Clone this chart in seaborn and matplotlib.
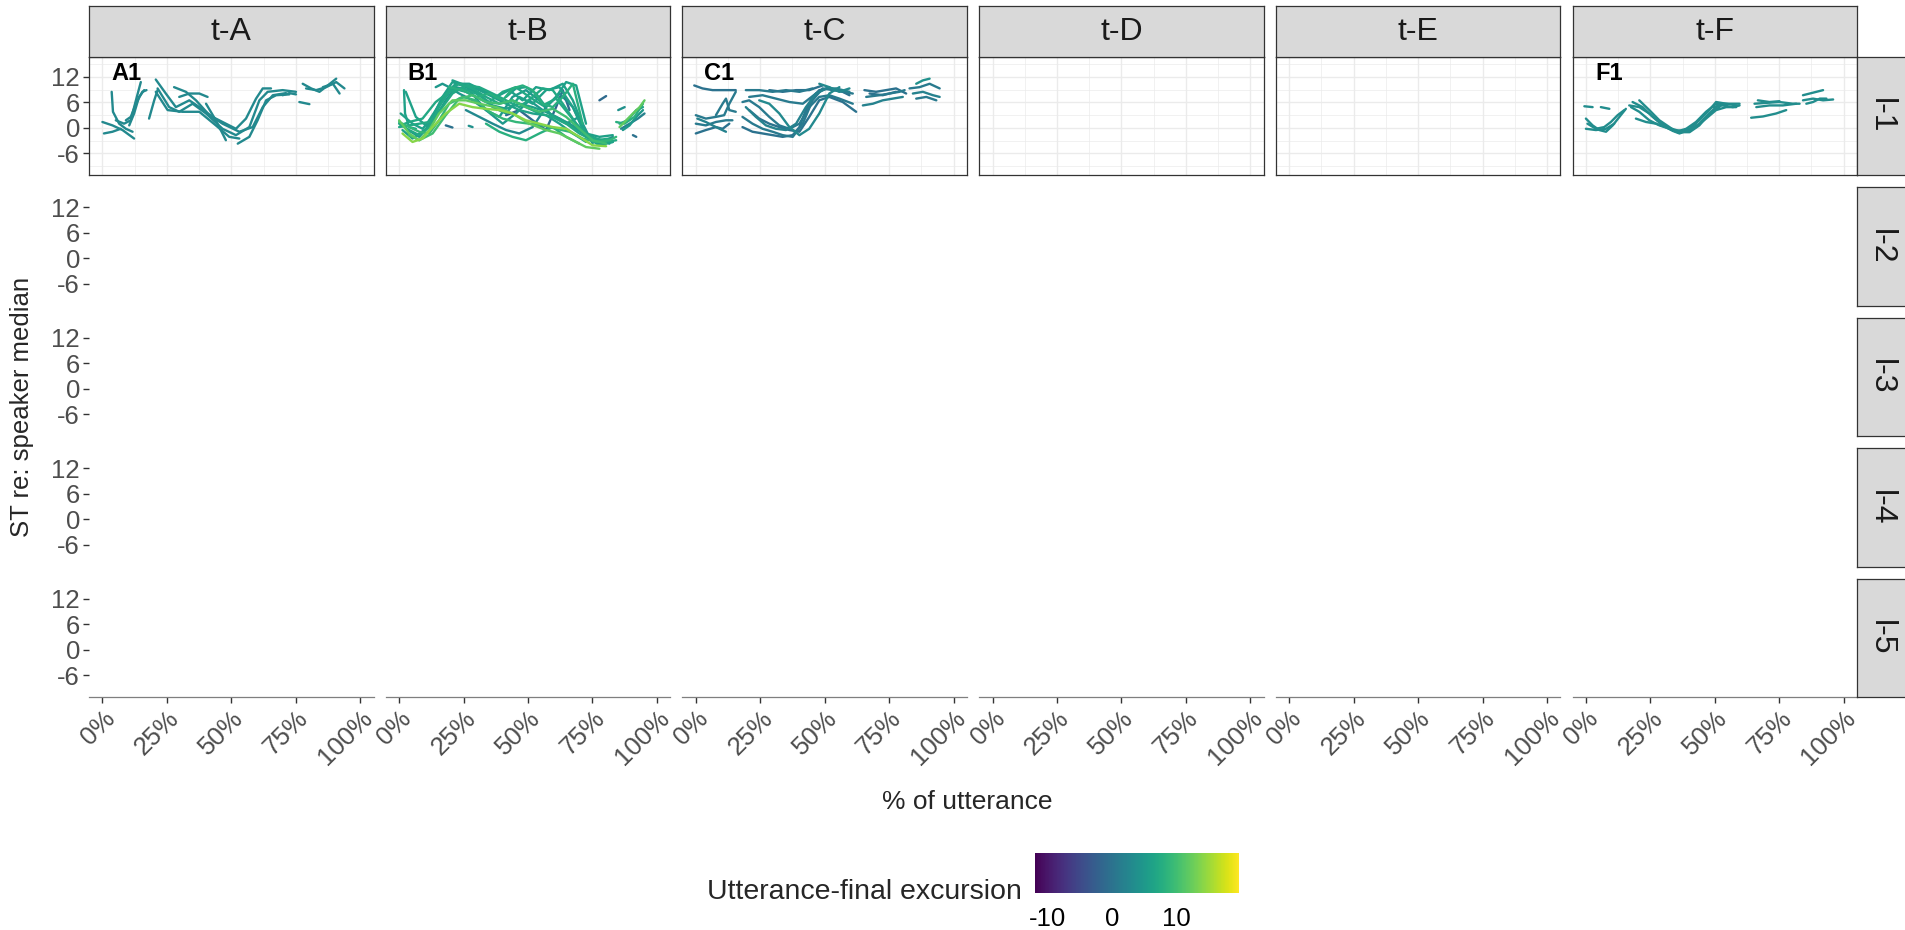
import pandas as pd
import matplotlib
matplotlib.use("Agg")
import matplotlib.pyplot as plt
import seaborn as sns

# facet levels
tones = ["t-A", "t-B", "t-C", "t-D", "t-E", "t-F"]
levels = ["l-1", "l-2", "l-3", "l-4", "l-5"]
panel_tags = {"t-A": "A1", "t-B": "B1", "t-C": "C1", "t-F": "F1"}

x_ticks = [0, 25, 50, 75, 100]
x_tick_labels = ["0%", "25%", "50%", "75%", "100%"]
y_ticks = [-6, 0, 6, 12]
exc_ticks = [-10, 0, 10]

# -------------------------------
# Contours: % of utterance, ST, excursion per contour
# -------------------------------
A_X = [
    [3.6, 4.1, 6.5, 9.1, 11.7],
    [0, 3.9, 7.8, 12.3],
    [0.6, 3.9, 7.1],
    [5.2, 8.4, 11.0, 13.0, 14.9],
    [9.1, 11.0, 13.0, 15.5, 17.1],
    [10.4, 12.3, 14.2, 16.2],
    [18.1, 20.1, 21.4],
    [20.7, 24.6, 28.5, 33.7, 37.6, 42.7, 47.9, 51.8, 55.7, 59.6, 62.2, 65.4],
    [21.4, 25.9, 29.8, 35.0, 40.2, 46.6, 51.8, 57.0, 60.9, 64.1, 69.9, 75.1],
    [20.7, 25.3, 31.1, 37.6, 44.0, 49.2, 53.1],
    [40.2, 44.0, 47.9],
    [27.8, 32.4, 36.3, 41.5, 46.6, 53.1, 58.3, 62.2, 66.1, 71.2],
    [29.8, 33.7, 37.6, 40.8],
    [52.5, 57.0, 60.2, 63.5, 67.4, 72.5],
    [76.4, 80.3],
    [77.7, 81.0, 84.2, 87.4, 90.7],
    [79.0, 82.9, 86.8, 90.7, 93.9],
    [85.5, 89.4, 92.0],
    [69.9, 72.5, 75.1],
]
A_Y = [
    [8.5, 3.8, 1.0, -0.2, -0.9],
    [1.4, 0.6, -0.5, -2.5],
    [-1.3, -0.9, -0.2],
    [1.8, 1.0, 1.8, 6.5, 10.8],
    [1.8, 2.6, 5.7, 8.5, 8.9],
    [0.6, 3.4, 7.3, 8.9],
    [2.2, 6.5, 8.9],
    [11.4, 8.1, 4.9, 6.5, 4.9, 2.6, 1.0, -0.2, 2.2, 6.9, 9.3, 9.3],
    [9.3, 4.9, 3.8, 5.7, 3.4, -0.2, -1.7, 0.2, 6.5, 8.5, 8.9, 8.5],
    [8.5, 4.2, 3.8, 3.8, 0.6, -2.1, -2.5],
    [5.7, 1.8, -2.9],
    [9.6, 8.5, 6.5, 3.0, 1.0, -0.9, 0.2, 4.9, 7.7, 8.2],
    [7.3, 8.1, 8.1, 7.3],
    [-3.7, -2.1, 1.8, 6.5, 7.7, 7.9],
    [6.1, 5.6],
    [10.4, 9.3, 8.5, 10.0, 11.6],
    [9.3, 8.9, 9.6, 10.8, 9.3],
    [9.6, 10.4, 8.1],
    [7.7, 8.2, 7.9],
]
A_EXC = [3, 3, 3, 3, 3, 3, 3, 3, 3, 3, 3, 3, 3, 3, 3, 3, 3, 3, 3]

B_X = [
    [0, 3.9, 7.8, 11.7, 15.5, 19.4, 23.3, 28.5, 33.7, 38.9, 44.0, 49.2, 54.4, 59.6, 64.8, 69.9, 75.1, 80.3, 84.2],
    [0.6, 5.2, 9.1, 13.0, 16.8, 20.7, 25.9, 31.1, 36.3, 41.5, 46.6, 51.8, 57.0, 62.2, 67.4, 72.5, 77.7, 82.9],
    [1.3, 5.2, 9.1, 13.0, 18.1, 23.3, 28.5, 33.7, 38.9, 44.0, 49.2, 54.4, 59.6, 64.8, 69.9, 75.1, 80.3],
    [0, 3.9, 7.8, 11.7, 15.5, 20.7, 25.9, 31.1, 37.6, 44.0, 50.5, 57.0, 62.2, 67.4, 72.5, 77.7],
    [2.6, 6.5, 10.4, 14.2, 18.1, 22.0, 27.2, 32.4, 37.6, 42.7, 47.9, 53.1, 58.3, 63.5, 67.4, 72.5, 77.7, 82.9],
    [41.5, 46.6, 51.8, 57.0, 60.9, 63.5, 66.1],
    [0, 3.9, 7.8, 11.7, 15.5, 20.7, 25.9, 31.1, 36.3, 41.5, 46.6, 51.8, 55.7, 59.6, 63.5, 68.7, 73.8, 79.0],
    [2.6, 7.8, 13.0, 18.1, 22.0, 27.2, 33.7, 40.2, 45.3, 50.5, 55.7, 60.9, 66.1, 71.2, 76.4, 81.6],
    [19.4, 24.6, 29.8, 35.0, 40.2, 44.0, 47.9, 51.8, 55.7, 59.6, 63.5, 67.4, 71.2],
    [20.7, 25.9, 31.1, 36.3, 41.5, 46.6, 51.8, 57.0, 62.2, 67.4, 72.5],
    [25.9, 31.1, 36.3, 41.5, 46.6, 51.8, 57.0, 62.2, 67.4, 72.5, 77.7, 82.9],
    [33.7, 38.9, 44.0, 49.2, 54.4, 59.6, 64.8, 69.9],
    [41.5, 45.3, 49.2, 53.1, 57.0, 60.9, 64.8, 68.7, 72.5],
    [1.9, 2.3, 3.9, 6.5],
    [85.5, 88.1, 90.7, 93.3, 95.2],
    [85.5, 88.7, 92.0, 94.6],
    [86.1, 89.4, 92.6, 95.2],
    [84.2, 87.4, 91.3, 94.6],
    [0, 3.9, 7.8, 11.7, 15.5, 19.4, 24.6, 29.8, 35.0, 40.2, 45.3, 50.5, 55.7, 60.9, 66.1, 71.2, 76.4, 81.6, 84.2],
    [14.2, 16.8, 19.4, 23.3, 28.5, 33.7, 38.9, 44.0, 49.2, 54.4, 59.6, 64.8, 69.9, 75.1],
    [77.7, 80.3],
    [85.0, 87.5],
    [90.7, 92.0],
    [18.1, 20.7],
    [27.0, 28.5],
    [1.3, 5.2, 10.4, 15.5, 20.7, 25.9, 31.1, 36.3, 41.5, 46.6, 51.8, 57.0, 62.2, 67.4, 72.5, 77.7, 82.9],
    [0.6, 3.9, 9.1, 14.2, 19.4, 24.6, 29.8, 35.0, 40.2, 45.3, 50.5, 55.7, 60.9, 66.1, 71.2, 76.4, 81.6],
    [3.9, 7.8, 13.0, 18.1, 23.3, 28.5, 33.7, 38.9, 44.0, 49.2, 54.4, 59.6, 64.8, 69.9, 75.1, 80.3],
    [86.8, 89.4, 92.0, 94.6],
]
B_Y = [
    [1.0, -0.5, -1.7, 0.2, 4.9, 8.9, 10.4, 9.3, 7.3, 5.7, 6.5, 4.9, 3.4, 2.6, 1.0, -1.3, -2.9, -3.3, -2.9],
    [3.4, 1.0, -0.2, 2.6, 7.3, 10.8, 9.6, 8.1, 4.9, 3.4, 7.3, 5.7, 8.9, 9.6, 4.9, -2.1, -4.1, -3.3],
    [-1.3, -3.3, -2.5, 0.2, 3.4, 5.7, 4.9, 4.5, 4.2, 3.4, 1.8, 1.0, 0.2, -0.2, -2.1, -4.1, -4.3],
    [1.8, -1.3, -2.9, -0.5, 3.4, 6.5, 6.5, 5.7, 4.9, 3.4, 1.0, -0.5, -1.3, -2.9, -4.5, -4.9],
    [8.5, 2.6, 0.6, 4.2, 8.1, 10.4, 10.4, 8.9, 7.3, 8.9, 6.5, 9.6, 8.9, 10.4, 6.5, -1.3, -2.1, -1.7],
    [3.0, 4.2, 1.8, -0.5, 4.9, 8.9, 4.2],
    [0.2, 0.6, 1.0, 1.4, 3.8, 8.1, 10.0, 9.6, 8.1, 6.5, 4.9, 7.3, 9.3, 8.9, 5.7, 1.0, -2.1, -2.9],
    [-0.2, -2.1, 1.4, 6.5, 9.6, 8.9, 4.2, 1.0, 3.4, 6.5, 4.2, 2.6, 1.0, -0.9, -2.5, -3.7],
    [9.6, 8.9, 7.3, 8.1, 6.5, 9.3, 10.0, 8.9, 5.7, 4.9, 7.3, 10.4, 1.0],
    [11.2, 10.0, 8.9, 7.3, 5.7, 4.2, 3.4, 3.0, 1.0, -1.3, -3.3],
    [4.2, 2.6, 1.0, -0.5, -1.3, 0.2, 4.9, 8.1, 4.9, -1.3, -3.7, -2.1],
    [1.0, -0.9, -2.1, -2.9, -1.3, 0.2, -2.1, -3.7],
    [7.3, 9.3, 9.6, 8.1, 4.9, 7.3, 10.8, 10.0, 1.0],
    [8.9, 3.4, 0.2, -0.2],
    [0.2, 1.8, 3.4, 4.9, 6.5],
    [1.0, 1.8, 4.2, 4.9],
    [-0.2, 1.0, 2.2, 3.4],
    [1.4, 1.0, 2.6, 5.7],
    [1.4, 0.2, -0.9, -1.3, 1.8, 5.7, 7.3, 6.5, 3.8, 2.2, 1.4, 1.0, 0.6, -0.2, -0.9, -2.5, -3.3, -2.9, -2.1],
    [9.6, 10.4, 9.6, 8.1, 6.5, 4.2, 2.6, 7.3, 8.9, 6.5, 2.6, 1.0, 2.6, -3.7],
    [6.5, 7.5],
    [4.2, 4.9],
    [-1.7, -2.1],
    [0.6, 0.1],
    [0.5, 0.2],
    [-0.5, -2.5, -0.2, 5.3, 9.3, 8.5, 6.9, 5.3, 4.5, 5.7, 4.9, 3.8, 2.2, 0.2, -1.7, -3.7, -3.3],
    [0.6, 1.4, 2.2, 6.1, 8.5, 9.3, 8.1, 6.1, 8.5, 9.6, 7.3, 5.3, 6.9, 3.0, -0.9, -2.9, -2.5],
    [-1.7, -2.9, -1.3, 3.0, 6.9, 7.7, 6.1, 5.7, 6.5, 4.9, 3.8, 4.5, 2.6, -0.2, -2.9, -3.7],
    [-0.5, 0.6, 2.6, 4.2],
]
B_EXC = [7, 6, 14, 12, 6, -1, 7, 5, 8, 6, 3, 8, 6, 6, 12, 6, 2, 8, 9, 5, -1, 4, 0, 0, 4, 6, 7, 10, 5]

C_X = [
    [-0.6, 2.6, 6.5, 10.4, 15.5],
    [0, 3.9, 7.8, 11.0, 13.0, 15.5],
    [0, 3.9, 7.8, 11.7, 14.2],
    [0, 3.9, 7.8, 10.4, 13.0],
    [7.8, 10.4, 11.7, 13.0, 15.5],
    [0.6, 3.9, 7.8, 11.7],
    [18.1, 22.0, 25.9, 29.8, 33.7, 37.6, 41.5, 45.3, 49.2, 53.1, 57.0, 60.9],
    [18.1, 22.0, 25.9, 29.8, 33.7, 37.6, 40.2, 42.7, 45.3, 47.9, 51.8, 55.7, 59.6],
    [19.4, 23.3, 27.2, 31.1, 35.0, 38.9, 42.7, 46.6, 50.5, 54.4, 59.6],
    [18.1, 20.7, 24.6, 28.5, 32.4, 36.3, 40.2, 44.0, 47.9, 51.8, 55.7, 60.9],
    [20.7, 24.6, 28.5, 32.4, 36.3, 40.2, 44.0, 47.9, 51.8, 57.0, 62.2],
    [20.7, 25.9, 31.1, 36.3, 41.5, 46.6, 51.8],
    [19.4, 24.6, 29.8, 35.0, 40.2, 45.3],
    [28.5, 33.7, 38.9, 44.0, 49.2],
    [24.6, 28.5, 32.4, 36.3, 40.2, 44.0, 47.9, 51.8, 55.7],
    [65.4, 69.9, 73.8, 77.7, 81.6],
    [66.1, 71.2, 75.1, 79.0, 81.0],
    [64.8, 68.7, 72.5, 76.4, 80.3],
    [67.4, 72.5, 77.7],
    [82.9, 86.8, 90.7, 94.6],
    [84.2, 88.1, 92.0, 94.6],
    [85.5, 88.1, 90.7],
    [85.5, 89.4, 93.3],
    [47.9, 51.8, 55.7, 59.6],
]
C_Y = [
    [10.0, 9.3, 8.9, 8.9, 8.9],
    [3.0, 2.2, 2.6, 3.0, 5.7, 8.5],
    [1.0, 0.6, 1.4, 1.8, 1.8],
    [-1.3, -0.5, 0.2, -0.2, 1.0],
    [3.0, 5.7, 6.9, 4.2, 3.8],
    [2.2, 1.4, 0.2, -0.9],
    [2.6, 1.0, -0.2, -0.9, -1.7, -2.1, 1.0, 6.5, 9.3, 8.9, 8.5, 8.1],
    [0.2, -0.9, -1.3, -1.7, -2.1, -1.7, 0.2, 4.2, 7.3, 8.9, 9.3, 8.9, 7.7],
    [4.9, 2.6, 0.6, -0.2, -0.5, 1.0, 4.9, 8.1, 9.3, 9.3, 8.5],
    [6.1, 6.5, 4.9, 2.6, 0.6, -0.2, 1.0, 4.9, 7.3, 7.7, 6.9, 5.7],
    [4.2, 2.2, 1.0, 0.2, -0.5, -0.9, 2.6, 6.5, 7.3, 6.1, 3.8],
    [7.3, 7.7, 6.9, 6.1, 5.7, 8.1, 9.6],
    [8.9, 8.9, 8.5, 8.9, 8.5, 9.3],
    [8.9, 8.5, 8.9, 8.9, 10.0],
    [6.5, 5.7, 3.4, 0.2, -1.7, -0.2, 3.4, 8.1, 9.6],
    [8.9, 8.5, 8.9, 9.3, 8.1],
    [7.3, 7.7, 8.1, 8.5, 8.9],
    [5.3, 5.7, 6.5, 6.9, 7.3],
    [8.1, 7.7, 8.5],
    [9.3, 9.6, 10.4, 9.3],
    [8.1, 8.5, 7.7, 7.3],
    [10.4, 11.2, 11.6],
    [6.9, 7.3, 6.5],
    [10.4, 9.6, 8.5, 9.3],
]
C_EXC = [0, 1, 1, 0, 1, 2, 1, 0, 2, 1, 0, 1, 1, 0, 3, 0, 1, 2, 0, 1, 2, 4, 1, 3]

F_X = [
    [-0.6, 2.6],
    [5.8, 9.1],
    [0, 2.6, 5.2, 7.8, 10.4, 13.0, 15.5],
    [0.6, 3.9, 7.1, 9.7, 12.3, 14.9],
    [0, 3.9, 7.8, 11.0],
    [16.8, 20.7, 24.6, 28.5, 32.4, 36.3, 40.2, 44.0, 47.9, 50.5, 54.4, 58.3],
    [18.1, 22.0, 25.9, 29.8, 33.7, 36.3, 40.2, 44.0, 47.9, 51.8, 55.7, 59.6],
    [20.7, 24.6, 28.5, 32.4, 35.0, 38.9, 42.7, 46.6, 50.5, 54.4],
    [17.5, 20.7, 24.6, 28.5, 32.4, 36.3, 40.2, 44.0, 47.9, 51.8],
    [19.4, 23.3, 27.2, 31.1, 35.0, 38.9, 42.7, 46.6, 50.5, 54.4, 58.3],
    [49.2, 53.1, 57.0, 59.6],
    [65.4, 69.9, 75.1, 80.3, 82.9],
    [66.1, 71.2, 76.4, 81.6],
    [64.1, 68.7, 73.8, 77.7],
    [66.7, 71.2, 75.1],
    [84.2, 88.1, 92.0, 95.9],
    [84.2, 86.8, 89.4, 92.0],
    [85.5, 88.1, 90.7, 93.3],
]
F_Y = [
    [5.1, 4.9],
    [4.9, 4.5],
    [2.2, 0.6, -0.5, -0.9, 0.6, 2.6, 4.5],
    [1.0, -0.2, 0.2, 1.4, 3.0, 4.2],
    [-0.2, -0.5, -0.2, 1.0],
    [5.3, 4.9, 3.4, 1.4, -0.2, -1.2, -0.2, 1.8, 4.2, 6.1, 5.7, 5.3],
    [6.1, 4.9, 2.6, 0.6, -0.7, -1.3, -0.4, 1.0, 3.4, 5.7, 5.7, 5.7],
    [6.5, 4.2, 1.8, 0.2, -0.9, -0.2, 1.4, 3.8, 5.7, 5.3],
    [4.9, 3.8, 1.8, 0.6, -0.2, -1.0, -1.0, 0.6, 3.4, 4.9],
    [2.2, 1.4, 1.0, 0.2, -0.5, -0.9, 0.2, 2.2, 4.2, 4.9, 4.9],
    [4.9, 5.3, 4.9, 5.3],
    [5.7, 5.9, 6.1, 5.7, 5.7],
    [4.9, 5.3, 5.3, 5.7],
    [2.4, 2.7, 3.4, 4.2],
    [6.5, 6.1, 6.3],
    [6.5, 6.9, 6.5, 6.7],
    [7.7, 8.1, 8.5, 8.9],
    [5.7, 6.1, 6.9, 6.9],
]
F_EXC = [3.5] * 18

panel_data = {
    "t-A": (A_X, A_Y, A_EXC),
    "t-B": (B_X, B_Y, B_EXC),
    "t-C": (C_X, C_Y, C_EXC),
    "t-F": (F_X, F_Y, F_EXC),
}

# long table: one row per contour point
records = []
for tone, (xs, ys, excs) in panel_data.items():
    for k, (cx, cy, e) in enumerate(zip(xs, ys, excs)):
        for px, py in zip(cx, cy):
            records.append({"tone": tone, "level": "l-1", "curve": f"{tone}-{k}",
                            "pct": px, "st": py, "exc": e})
df = pd.DataFrame(records)

# -------------------------------
# Figure layout (ggplot-like facet grid)
# -------------------------------
sns.set_style("white")
plt.rcParams["font.family"] = ["Liberation Sans", "DejaVu Sans"]

W, H = 1905, 930
fig = plt.figure(figsize=(W / 100, H / 100), dpi=100)


def box(x0, y0, w, h):
    return [x0 / W, 1 - (y0 + h) / H, w / W, h / H]


col_x = [89 + j * 296.7 for j in range(len(tones))]
row_y = [57 + i * 130.4 for i in range(len(levels))]
pw, ph = 284.6, 118.5
xlim = (-5.2, 105.2)
ylim = (-11.2, 16.7)
hue_norm = (-11.9, 19.7)
tick_col = "#4D4D4D"
border_col = "#333333"

for i, level in enumerate(levels):
    for j, tone in enumerate(tones):
        ax = fig.add_axes(box(col_x[j], row_y[i], pw, ph))
        sub = df[(df["tone"] == tone) & (df["level"] == level)]
        if i == 0:
            ax.set_facecolor("white")
            if len(sub):
                sns.lineplot(data=sub, x="pct", y="st", units="curve", estimator=None,
                             hue="exc", palette="viridis", hue_norm=hue_norm,
                             sort=False, legend=False, linewidth=1.7, ax=ax)
            if tone in panel_tags:
                ax.text(9.2, 12.8, panel_tags[tone], fontsize=17, fontweight="bold",
                        ha="center", va="center", color="black")
            ax.set_xticks(x_ticks)
            ax.set_xticks([12.5, 37.5, 62.5, 87.5], minor=True)
            ax.set_yticks(y_ticks)
            ax.set_yticks([-9, -3, 3, 9, 15], minor=True)
            ax.grid(which="major", color="#EBEBEB", linewidth=1.0)
            ax.grid(which="minor", color="#EBEBEB", linewidth=0.5)
            ax.set_axisbelow(True)
            for s in ax.spines.values():
                s.set_color(border_col)
                s.set_linewidth(0.9)
        else:
            ax.set_facecolor("none")
            for s in ax.spines.values():
                s.set_visible(False)
            ax.set_xticks(x_ticks)
            ax.set_yticks(y_ticks)
        ax.set_xlim(xlim)
        ax.set_ylim(ylim)
        ax.set_xlabel("")
        ax.set_ylabel("")
        ax.tick_params(which="minor", length=0)
        ax.tick_params(axis="both", which="major", colors=border_col, length=4.5,
                       width=1.0, labelcolor=tick_col, labelsize=18.5, pad=2)
        if j == 0:
            ax.tick_params(axis="y", left=True, labelleft=True)
            ax.set_yticklabels([str(v) for v in y_ticks])
        else:
            ax.tick_params(axis="y", left=False, labelleft=False)
        if i == len(levels) - 1:
            ax.spines["bottom"].set_visible(True)
            ax.spines["bottom"].set_color("#7F7F7F")
            ax.spines["bottom"].set_linewidth(0.9)
            ax.tick_params(axis="x", bottom=True, labelbottom=True)
            ax.set_xticklabels(x_tick_labels, rotation=45, ha="right", va="top",
                               rotation_mode="anchor")
        else:
            ax.tick_params(axis="x", bottom=False, labelbottom=False)

# top strips
for j, tone in enumerate(tones):
    sax = fig.add_axes(box(col_x[j], 6, pw, 51))
    sax.set_facecolor("#D9D9D9")
    sax.set_xticks([])
    sax.set_yticks([])
    for s in sax.spines.values():
        s.set_color(border_col)
        s.set_linewidth(0.9)
    sax.text(0.5, 0.5, tone, transform=sax.transAxes, ha="center", va="center",
             fontsize=23, color="#1A1A1A")

# right strips
for i, level in enumerate(levels):
    sax = fig.add_axes(box(1857, row_y[i], 52, ph))
    sax.set_facecolor("#D9D9D9")
    sax.set_xticks([])
    sax.set_yticks([])
    for s in sax.spines.values():
        s.set_color(border_col)
        s.set_linewidth(0.9)
    sax.text(0.45, 0.5, level, transform=sax.transAxes, ha="center", va="center",
             rotation=-90, fontsize=23, color="#1A1A1A")

# axis titles
fig.text(22 / W, 1 - 407 / H, "ST re: speaker median", rotation=90, ha="center",
         va="center", fontsize=18.5)
fig.text(967 / W, 1 - 802 / H, "% of utterance", ha="center", va="center", fontsize=19)

# colour bar legend
cax = fig.add_axes(box(1035, 853, 204, 40))
sm = plt.cm.ScalarMappable(cmap="viridis", norm=plt.Normalize(*hue_norm))
cbar = fig.colorbar(sm, cax=cax, orientation="horizontal", ticks=exc_ticks)
cbar.outline.set_visible(False)
cax.tick_params(axis="x", direction="in", colors="white", length=7, width=1,
                top=True, bottom=True, labelcolor="black", labelsize=18.5, pad=10)
cax.set_xticklabels([str(v) for v in exc_ticks])
fig.text(1022 / W, 1 - 892 / H, "Utterance-final excursion", ha="right", va="center",
         fontsize=20.5)

plt.savefig("out.png", dpi=100)
plt.close()
